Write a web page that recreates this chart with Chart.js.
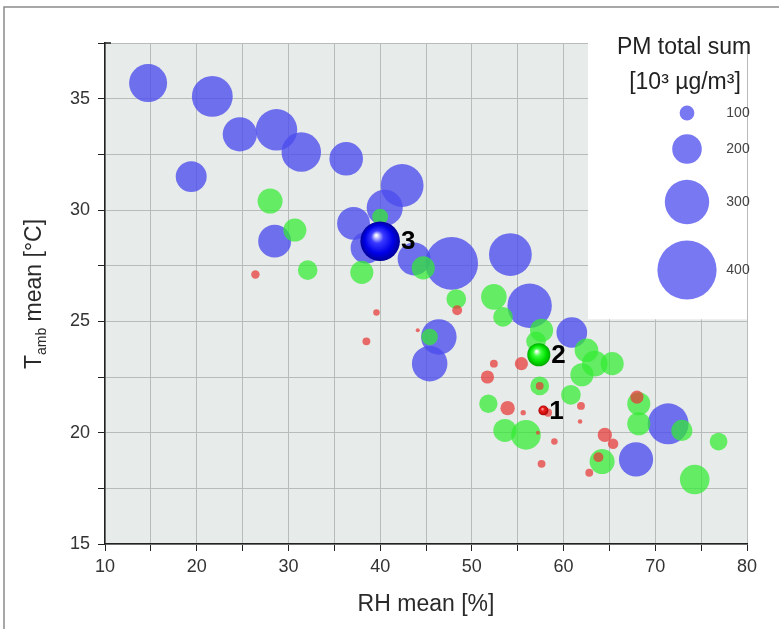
<!DOCTYPE html>
<html>
<head>
<meta charset="utf-8">
<script src="https://cdn.jsdelivr.net/npm/chart.js@4.4.1/dist/chart.umd.min.js"></script>
<style>
  html, body { margin: 0; padding: 0; background: #fff; }
  #wrap { width: 779px; height: 629px; position: relative; }
</style>
</head>
<body>
<div id="wrap"><canvas id="myChart" width="779" height="629"></canvas></div>
<script>
// Bubble chart: RH mean vs T_amb mean, bubble size = PM total sum

const FONT = '"Liberation Sans", Arial, sans-serif';

// blue group
const blueRH = [14.7, 21.7, 24.7, 28.7, 31.4, 36.3, 19.4, 28.5, 42.4, 40.5, 37.1, 38.5, 43.7, 47.8, 54.2, 56.3, 46.4, 45.4, 60.9, 67.9, 71.4];
const blueT  = [35.7, 35.1, 33.4, 33.6, 32.6, 32.3, 31.5, 28.6, 31.1, 30.1, 29.4, 28.3, 27.8, 27.6, 28.0, 25.7, 24.3, 23.1, 24.5, 18.8, 20.4];
const bluePM = [257, 276, 231, 280, 267, 227, 209, 222, 289, 244, 222, 213, 222, 356, 289, 300, 240, 240, 207, 231, 276];

// green group
const greenRH = [28.0, 30.7, 32.1, 40.0, 38.0, 44.7, 48.3, 52.4, 53.4, 57.6, 57.0, 45.4, 62.5, 63.4, 65.3, 62.0, 60.8, 57.4, 51.8, 53.6, 55.9, 64.2, 68.2, 68.2, 72.9, 76.9, 74.3];
const greenT  = [30.4, 29.1, 27.3, 29.7, 27.2, 27.4, 26.0, 26.1, 25.2, 24.6, 24.1, 24.3, 23.7, 23.1, 23.1, 22.6, 21.7, 22.1, 21.3, 20.1, 19.9, 18.7, 21.3, 20.4, 20.1, 19.6, 17.9];
const greenPM = [169, 156, 133, 107, 156, 156, 133, 173, 133, 156, 133, 111, 160, 173, 156, 156, 133, 127, 124, 156, 200, 169, 156, 156, 143, 120, 200];

// red group
const redRH = [26.4, 39.6, 38.5, 48.4, 52.4, 55.4, 51.7, 57.4, 53.9, 55.6, 61.9, 61.8, 57.2, 59.0, 57.6, 64.5, 65.4, 63.8, 62.8, 68.0, 44.1, 58.3];
const redT  = [27.1, 25.4, 24.1, 25.5, 23.1, 23.1, 22.5, 22.1, 21.1, 20.9, 21.2, 20.5, 20.0, 19.6, 18.6, 19.9, 19.5, 18.9, 18.2, 21.6, 24.6, 20.9];
const redPM = [57, 44, 53, 67, 53, 89, 89, 53, 97, 36, 53, 31, 27, 44, 53, 97, 71, 67, 53, 89, 27, 55];

// highlighted points 1, 2, 3
const markLabels = ['1', '2', '3'];
const markRH = [57.8, 57.3, 40.0];
const markT  = [21.0, 23.5, 28.6];
const markPM = [67, 156, 267];

// size legend
const legendSizes = [100, 200, 300, 400];

// tick values
const xTickLabels = [10, 20, 30, 40, 50, 60, 70, 80];
const yTickLabels = [15, 20, 25, 30, 35];

const R_PER_PM = 0.074; // bubble radius in px per 10^3 ug/m3

function toBubbles(xs, ys, pms) {
    return xs.map((x, i) => ({x: x, y: ys[i], r: pms[i] * R_PER_PM}));
}

// shiny fill for the marked points (1 = red, 2 = green, 3 = blue)
const markStops = {
    '1': ['#ff9090', '#e82020', '#d01010', '#a00000'],
    '2': ['#ffffff', '#40ff40', '#00e000', '#00a800'],
    '3': ['#ffffff', '#3a3aff', '#0000e8', '#00009a']
};
function markFill(context) {
    const st = markStops[markLabels[context.dataIndex]] || markStops['3'];
    if (context.type !== 'data' || !context.raw) return st[2];
    const chart = context.chart;
    const raw = context.raw;
    const px = chart.scales.x ? chart.scales.x.getPixelForValue(raw.x) : NaN;
    const py = chart.scales.y ? chart.scales.y.getPixelForValue(raw.y) : NaN;
    const r = raw.r;
    if (!isFinite(px) || !isFinite(py) || !isFinite(r)) return st[2];
    const g = chart.ctx.createRadialGradient(px - r * 0.2, py - r * 0.3, 0.5, px, py, r);
    g.addColorStop(0, st[0]);
    g.addColorStop(0.3, st[1]);
    g.addColorStop(0.7, st[2]);
    g.addColorStop(1, st[3]);
    return g;
}

const plotDecor = {
    id: 'plotDecor',
    beforeDraw(chart) {
        const {ctx, chartArea: a} = chart;
        ctx.save();
        ctx.fillStyle = '#e7ebe9';
        ctx.fillRect(a.left, a.top, a.right - a.left, a.bottom - a.top);
        // figure frame (left and top edges)
        ctx.strokeStyle = '#8a8a8a';
        ctx.lineWidth = 1.5;
        ctx.beginPath();
        ctx.moveTo(4, 629);
        ctx.lineTo(4, 7);
        ctx.lineTo(779, 7);
        ctx.stroke();
        ctx.restore();
    },
    beforeDatasetsDraw(chart) {
        const {ctx, chartArea: a} = chart;
        const yb = chart.scales.y.getPixelForValue(25) - 2;
        ctx.save();
        ctx.fillStyle = '#ffffff';
        ctx.fillRect(588, a.top, a.right - 588, yb - a.top);
        // small inward tick at the top of the y axis
        ctx.strokeStyle = '#222';
        ctx.lineWidth = 1.5;
        ctx.beginPath();
        ctx.moveTo(a.left, a.top);
        ctx.lineTo(a.left + 6, a.top);
        ctx.stroke();
        ctx.restore();
    },
    afterDatasetsDraw(chart) {
        const {ctx} = chart;
        ctx.save();
        // size legend
        ctx.fillStyle = '#222';
        ctx.textAlign = 'center';
        ctx.textBaseline = 'middle';
        ctx.font = '23px ' + FONT;
        ctx.fillText('PM total sum', 684, 48);
        ctx.fillText('[10³ µg/m³]', 685, 83);
        const cy = [113, 149, 202, 270];
        legendSizes.forEach((v, i) => {
            ctx.beginPath();
            ctx.arc(687, cy[i], v * R_PER_PM, 0, Math.PI * 2);
            ctx.fillStyle = 'rgba(90, 90, 240, 0.82)';
            ctx.fill();
            ctx.fillStyle = '#444';
            ctx.font = '14px ' + FONT;
            ctx.fillText(String(v), 738, cy[i]);
        });
        // labels of marked points
        const meta = chart.getDatasetMeta(0);
        ctx.fillStyle = '#000';
        ctx.textAlign = 'left';
        ctx.font = 'bold 26px ' + FONT;
        meta.data.forEach((pt, i) => {
            const r = markPM[i] * R_PER_PM;
            ctx.fillText(markLabels[i], pt.x + r + 1, pt.y + 1);
        });
        // y axis title with subscript
        ctx.translate(33, 294);
        ctx.rotate(-Math.PI / 2);
        ctx.fillStyle = '#2a2a2a';
        ctx.textBaseline = 'alphabetic';
        const big = '23px ' + FONT, small = '14px ' + FONT;
        ctx.font = big; const wT = ctx.measureText('T').width;
        const wRest = ctx.measureText(' mean [°C]').width;
        ctx.font = small; const wSub = ctx.measureText('amb').width;
        let x0 = -(wT + wSub + wRest) / 2;
        ctx.font = big; ctx.fillText('T', x0, 8);
        ctx.font = small; ctx.fillText('amb', x0 + wT, 13);
        ctx.font = big; ctx.fillText(' mean [°C]', x0 + wT + wSub, 8);
        ctx.restore();
    }
};

const ctx = document.getElementById('myChart').getContext('2d');

const myChart = new Chart(ctx, {
    type: 'bubble',
    data: {
        datasets: [
            {
                label: 'marked',
                data: toBubbles(markRH, markT, markPM),
                backgroundColor: markFill,
                borderWidth: 0,
                order: 1
            },
            {
                label: 'red',
                data: toBubbles(redRH, redT, redPM),
                backgroundColor: 'rgba(232, 55, 55, 0.72)',
                borderWidth: 0,
                order: 2
            },
            {
                label: 'green',
                data: toBubbles(greenRH, greenT, greenPM),
                backgroundColor: 'rgba(50, 236, 50, 0.72)',
                borderWidth: 0,
                order: 3
            },
            {
                label: 'blue',
                data: toBubbles(blueRH, blueT, bluePM),
                backgroundColor: 'rgba(75, 75, 238, 0.78)',
                borderWidth: 0,
                order: 4
            }
        ]
    },
    options: {
        responsive: false,
        animation: false,
        events: [],
        layout: {padding: {left: 0, top: 43, right: 32, bottom: 0}},
        plugins: {
            legend: {display: false},
            tooltip: {enabled: false}
        },
        scales: {
            x: {
                type: 'linear',
                min: 10,
                max: 80,
                afterFit(scale) { scale.height = 85; },
                ticks: {
                    stepSize: 5,
                    padding: 5,
                    color: '#333',
                    font: {family: FONT, size: 18},
                    callback: function (value) {
                        return xTickLabels.includes(value) ? String(value) : '';
                    }
                },
                grid: {
                    color: '#b7bbba',
                    lineWidth: 1,
                    tickColor: '#222',
                    tickLength: 7
                },
                border: {color: '#222', width: 1.5},
                title: {
                    display: true,
                    text: 'RH mean [%]',
                    color: '#2a2a2a',
                    font: {family: FONT, size: 23},
                    padding: {top: 4, bottom: 11}
                }
            },
            y: {
                type: 'linear',
                min: 15,
                max: 37.5,
                afterFit(scale) { scale.width = 105; },
                ticks: {
                    stepSize: 2.5,
                    padding: 8,
                    color: '#333',
                    font: {family: FONT, size: 18},
                    callback: function (value) {
                        return yTickLabels.includes(value) ? String(value) : '';
                    }
                },
                grid: {
                    color: '#b7bbba',
                    lineWidth: 1,
                    tickColor: '#222',
                    tickLength: 7
                },
                border: {color: '#222', width: 1.5}
            }
        }
    },
    plugins: [plotDecor]
});
</script>
</body>
</html>
